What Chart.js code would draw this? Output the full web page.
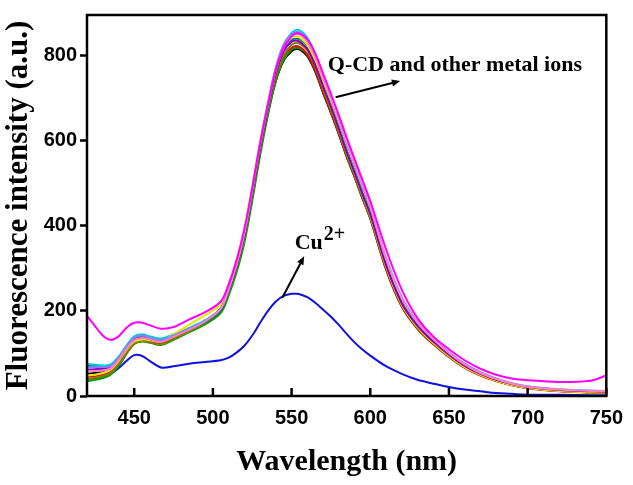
<!DOCTYPE html>
<html>
<head>
<meta charset="utf-8">
<script src="https://cdn.jsdelivr.net/npm/chart.js@4.4.1/dist/chart.umd.min.js"></script>
<style>
  html, body { margin: 0; padding: 0; background: #fff; }
  canvas { display: block; }
</style>
</head>
<body>
<canvas id="chart" width="633" height="485"></canvas>
<script>
let wavelengths = [420,425,430,435,440,445,450,455,460,467,475,485,495,505,510,515,520,525,530,535,540,545,550,553,556,560,565,570,575,580,585,590,595,600,610,620,630,640,650,660,670,680,690,700,720,740,750];

// Q-CD alone and with the other metal ions
let qcdMagenta = [188,165,142,132,140,160,172,172,166,158,162,180,197,222,262,318,392,488,592,685,765,818,845,852,850,838,805,758,710,660,607,557,508,458,345,250,183,140,110,84,64,50,41,37,33,36,48];
let qcdBlack   = [52,54,56,62,80,105,125,130,127,122,135,152,170,200,245,300,372,470,575,665,740,788,810,815,812,798,762,712,665,615,562,515,465,418,300,212,160,125,95,70,50,36,26,19,12,9,8];
let qcdRed     = [45,47,50,57,76,102,124,130,127,123,137,156,176,206,250,305,378,478,585,675,750,798,818,822,818,803,766,716,668,617,564,516,466,418,298,210,158,122,92,66,48,35,25,18,11,8,7];
let qcdGreen   = [35,38,42,50,70,98,122,128,125,120,132,150,168,195,236,290,360,458,565,660,740,790,814,818,815,802,766,716,668,617,563,515,464,416,298,210,158,122,92,67,49,36,26,19,12,9,8];
let qcdCyan    = [75,74,72,74,92,118,140,145,140,135,145,160,178,205,250,308,382,482,590,685,770,825,853,860,857,842,805,752,702,650,595,545,493,442,320,228,172,133,100,74,55,40,29,22,14,12,11];
let qcdYellow  = [48,50,54,62,82,108,128,133,131,128,145,168,190,215,262,320,395,495,600,690,770,820,842,845,840,825,785,733,683,630,575,525,474,425,305,215,162,125,94,68,50,36,26,19,12,9,8];
let qcdOlive   = [40,43,47,54,74,100,123,129,126,121,134,152,172,202,245,300,372,472,580,672,750,800,825,830,826,812,774,722,673,621,567,518,468,420,302,213,160,124,94,68,50,37,27,20,13,10,9];
let qcdPurple  = [62,63,64,68,86,112,133,138,134,128,140,157,175,204,248,304,378,478,585,678,760,810,832,835,830,815,778,728,680,628,574,525,475,427,308,218,165,128,97,71,52,38,28,21,14,11,10];
let qcdViolet  = [68,68,68,71,89,115,137,142,137,131,142,158,176,206,252,310,385,486,594,688,772,826,850,855,852,837,802,752,703,652,598,548,497,447,325,232,175,136,103,76,56,41,30,23,16,13,12];
let qcdPink    = [58,59,60,65,84,110,131,136,133,127,139,156,175,205,250,307,382,483,590,683,765,818,845,850,847,832,797,748,700,650,596,546,495,445,323,230,173,134,101,74,54,40,29,22,15,12,11];
let qcdTeal    = [72,71,70,72,90,116,138,143,138,132,142,157,174,202,247,303,377,477,585,678,760,812,836,840,836,822,785,734,685,633,579,530,479,430,310,220,166,129,98,72,53,39,28,21,14,12,11];

// quenched by Cu2+
let cuBlue = [40,42,46,52,65,82,96,94,82,67,70,76,80,84,90,102,118,142,172,200,222,235,240,240,238,232,219,203,186,167,146,126,109,95,70,52,38,29,21,15,11,7,5,3,3,2,2];

let xTicks = [450,500,550,600,650,700,750];
let yTicks = [0,200,400,600,800];

let qcdText = 'Q-CD and other metal ions';
let qcdTextAt = [573, 764];
let qcdArrow = [[578, 702], [619, 740]];
let cuText = 'Cu';
let cuSup = '2+';
let cuTextAt = [552, 346];
let cuArrow = [[544, 230], [558, 328]];

let series = [
    { data: qcdMagenta, color: '#ff00ff' },
    { data: qcdPink, color: '#ff80c0' },
    { data: qcdViolet, color: '#8080ff' },
    { data: qcdPurple, color: '#8000c0' },
    { data: qcdYellow, color: '#e8e800' },
    { data: qcdCyan, color: '#00d0d0' },
    { data: qcdTeal, color: '#008080' },
    { data: qcdOlive, color: '#808000' },
    { data: qcdRed, color: '#ff0000' },
    { data: qcdGreen, color: '#00a000' },
    { data: qcdBlack, color: '#000000' },
    { data: cuBlue, color: '#1010e0' }
];

function toPoints(values) {
    return wavelengths.map((w, i) => ({ x: w, y: values[i] }));
}

function drawArrow(ctx, x1, y1, x2, y2) {
    let ang = Math.atan2(y2 - y1, x2 - x1);
    let head = 9;
    ctx.beginPath();
    ctx.moveTo(x1, y1);
    ctx.lineTo(x2 - Math.cos(ang) * head * 0.8, y2 - Math.sin(ang) * head * 0.8);
    ctx.stroke();
    ctx.beginPath();
    ctx.moveTo(x2, y2);
    ctx.lineTo(x2 - head * Math.cos(ang - 0.4), y2 - head * Math.sin(ang - 0.4));
    ctx.lineTo(x2 - head * Math.cos(ang + 0.4), y2 - head * Math.sin(ang + 0.4));
    ctx.closePath();
    ctx.fill();
}

const decorations = {
    id: 'decorations',
    afterDraw(chart) {
        let ctx = chart.ctx;
        let a = chart.chartArea;
        let xs = chart.scales.x;
        let ys = chart.scales.y;
        ctx.save();
        ctx.strokeStyle = '#000';
        ctx.fillStyle = '#000';
        ctx.lineWidth = 2.5;
        ctx.strokeRect(a.left, a.top, a.right - a.left, a.bottom - a.top);

        // x ticks point into the plot
        xs.ticks.forEach(t => {
            let px = xs.getPixelForValue(t.value);
            ctx.beginPath();
            ctx.moveTo(px, a.bottom);
            ctx.lineTo(px, a.bottom - 8);
            ctx.stroke();
        });

        ctx.font = 'bold 22px "Liberation Serif"';
        ctx.textBaseline = 'alphabetic';
        ctx.textAlign = 'left';
        ctx.fillText(qcdText, xs.getPixelForValue(qcdTextAt[0]), ys.getPixelForValue(qcdTextAt[1]));

        let cx = xs.getPixelForValue(cuTextAt[0]);
        let cy = ys.getPixelForValue(cuTextAt[1]);
        ctx.fillText(cuText, cx, cy);
        let w = ctx.measureText(cuText).width;
        ctx.font = 'bold 20px "Liberation Serif"';
        ctx.fillText(cuSup, cx + w + 1, cy - 9);

        ctx.lineWidth = 2;
        drawArrow(ctx, xs.getPixelForValue(qcdArrow[0][0]), ys.getPixelForValue(qcdArrow[0][1]),
            xs.getPixelForValue(qcdArrow[1][0]), ys.getPixelForValue(qcdArrow[1][1]));
        drawArrow(ctx, xs.getPixelForValue(cuArrow[0][0]), ys.getPixelForValue(cuArrow[0][1]),
            xs.getPixelForValue(cuArrow[1][0]), ys.getPixelForValue(cuArrow[1][1]));
        ctx.restore();
    }
};

let ctx = document.getElementById('chart').getContext('2d');
let chart = new Chart(ctx, {
    type: 'line',
    data: {
        datasets: series.map(s => ({
            data: toPoints(s.data),
            borderColor: s.color,
            borderWidth: 2,
            pointRadius: 0,
            fill: false,
            tension: 0.35
        }))
    },
    options: {
        responsive: false,
        animation: false,
        devicePixelRatio: 1,
        layout: { padding: { top: 11, right: 22, left: 0, bottom: 0 } },
        plugins: {
            legend: { display: false },
            tooltip: { enabled: false }
        },
        scales: {
            x: {
                type: 'linear',
                min: 420,
                max: 750,
                afterBuildTicks: s => { s.ticks = xTicks.map(v => ({ value: v })); },
                afterFit: s => { s.height = 89; },
                ticks: {
                    color: '#000',
                    padding: 10,
                    maxRotation: 0,
                    font: { family: '"Liberation Sans"', size: 20, weight: 'bold' }
                },
                grid: { drawOnChartArea: false, drawTicks: false },
                border: { display: false },
                title: {
                    display: true,
                    text: 'Wavelength (nm)',
                    color: '#000',
                    padding: { top: 0, bottom: 5 },
                    font: { family: '"Liberation Serif"', size: 30, weight: 'bold' }
                }
            },
            y: {
                min: 0,
                max: 895,
                afterBuildTicks: s => { s.ticks = yTicks.map(v => ({ value: v })); },
                afterFit: s => { s.width = 87; },
                ticks: {
                    color: '#000',
                    padding: 3,
                    font: { family: '"Liberation Sans"', size: 20, weight: 'bold' }
                },
                grid: { drawOnChartArea: false, drawTicks: true, tickLength: 7, tickColor: '#000', tickWidth: 2.5 },
                border: { display: false },
                title: {
                    display: true,
                    text: 'Fluorescence intensity (a.u.)',
                    color: '#000',
                    padding: { top: 0, bottom: 0 },
                    font: { family: '"Liberation Serif"', size: 31, weight: 'bold' }
                }
            }
        }
    },
    plugins: [decorations]
});
</script>
</body>
</html>
